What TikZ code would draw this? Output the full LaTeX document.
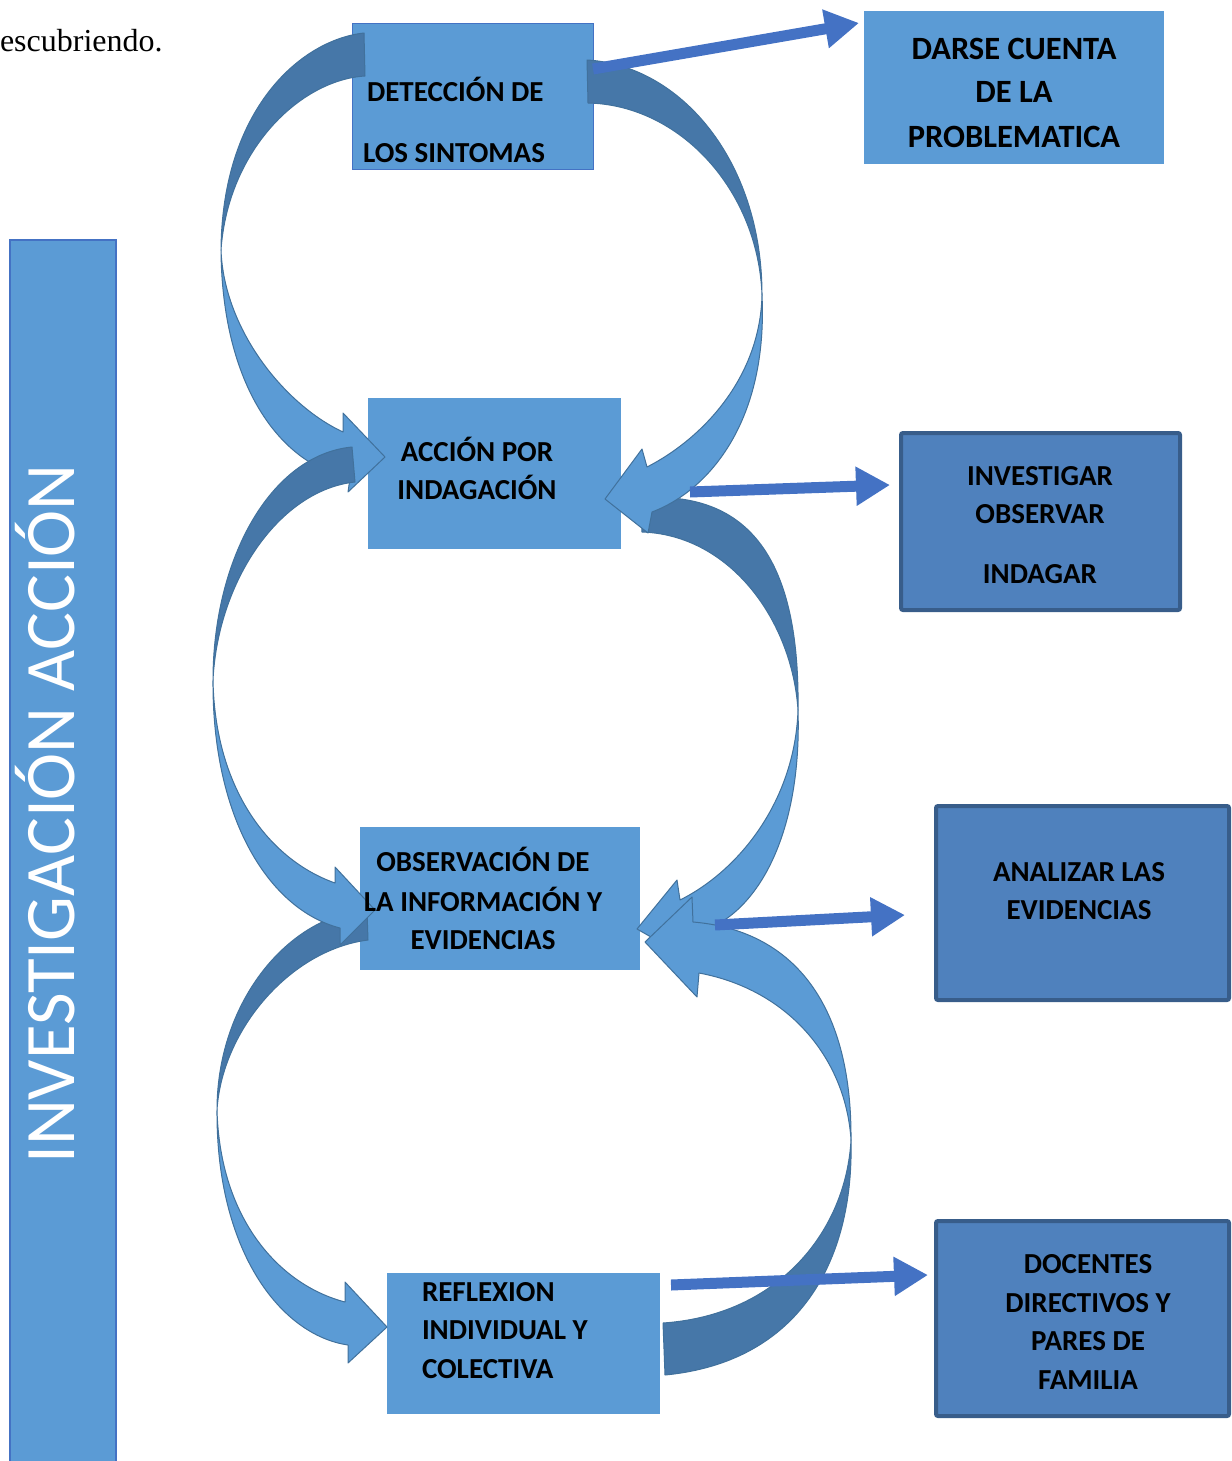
\documentclass[tikz,border=0pt]{standalone}
\usepackage{fontspec}
\setmainfont{Carlito}
\newfontfamily\serifont{Liberation Serif}
\usetikzlibrary{arrows.meta}
\definecolor{boxlight}{HTML}{5B9BD5}
\definecolor{boxdark}{HTML}{4F81BD}
\definecolor{boxdarkline}{HTML}{385D8A}
\definecolor{linecol}{HTML}{4472C4}
\definecolor{ribbondark}{HTML}{4677A8}
\definecolor{ribbonline}{HTML}{41719C}
\begin{document}
\begin{tikzpicture}[x=1pt,y=-1pt,
  every node/.style={inner sep=0pt,outer sep=0pt},
  lightbox/.style={rectangle,fill=boxlight,draw=none},
  darkbox/.style={rectangle,fill=boxdark,draw=boxdarkline,line width=4pt,rounded corners=2pt},
  ribfront/.style={fill=boxlight,draw=ribbonline,line width=1pt,line join=round},
  ribback/.style={fill=ribbondark,draw=ribbonline,line width=1pt,line join=round},
  straight/.style={draw=linecol,line width=11pt,-{Triangle[length=34pt,width=37pt]}},
  lbl/.style={anchor=base,font=\bfseries\fontsize{29}{29}\selectfont,text=black},
  lblw/.style={anchor=base west,font=\bfseries\fontsize{29}{29}\selectfont,text=black},
  lblbig/.style={anchor=base,font=\bfseries\fontsize{32.5}{32.5}\selectfont,text=black}]
\useasboundingbox (0,0) rectangle (1231,1461);

% side bar
\node[rectangle,fill=boxlight,draw=linecol,line width=2.5pt,minimum width=106pt,minimum height=1240pt] (bar) at (63,860) {};

% boxes
\node[lightbox,draw=linecol,line width=1pt,minimum width=241pt,minimum height=145pt] (det) at (472.5,96.5) {};
\node[lightbox,minimum width=300pt,minimum height=153pt] (darse) at (1014,87.5) {};
\node[lightbox,minimum width=253pt,minimum height=151pt] (accion) at (494.5,473.5) {};
\node[lightbox,minimum width=280pt,minimum height=143pt] (obs) at (500,898.5) {};
\node[lightbox,minimum width=273pt,minimum height=141pt] (refl) at (523.5,1343.5) {};
\node[darkbox,minimum width=279pt,minimum height=177pt] (inv) at (1040.5,521.5) {};
\node[darkbox,minimum width=293pt,minimum height=194pt] (anal) at (1082.5,903) {};
\node[darkbox,minimum width=293pt,minimum height=195pt] (doc) at (1082.5,1318.5) {};

% curved arrow A (left, top)
\path[ribback] (364,33) .. controls (300,40) and (222,110) .. (221,250)
   .. controls (228,150) and (300,80) .. (365,76) -- cycle;
\path[ribfront] (221,250) .. controls (222,385) and (280,465) .. (350,478)
   -- (348,492) -- (385,457) -- (343,413) -- (343,432)
   .. controls (285,405) and (224,330) .. (221,250) -- cycle;
% curved arrow E (left, bottom)
\path[ribback] (367,910) .. controls (290,915) and (217,1000) .. (217,1110)
   .. controls (222,1030) and (290,950) .. (368,940) -- cycle;
\path[ribfront] (217,1110) .. controls (216,1250) and (280,1335) .. (348,1345)
   -- (348,1363) -- (387,1327) -- (345,1282) -- (345,1302)
   .. controls (280,1285) and (220,1220) .. (217,1110) -- cycle;
% curved arrow D (left, middle)
\path[ribback] (352,447) .. controls (270,455) and (213,560) .. (213,680)
   .. controls (218,580) and (280,490) .. (355,482) -- cycle;
\path[ribfront] (213,680) .. controls (212,820) and (270,910) .. (340,928)
   -- (340,945) -- (375,910) -- (335,867) -- (335,883)
   .. controls (270,860) and (215,790) .. (213,680) -- cycle;
% curved arrow C (right, middle)
\path[ribback] (640,498) .. controls (750,490) and (800,560) .. (798,710)
   .. controls (792,620) and (730,535) .. (642,532) -- cycle;
\path[ribfront] (798,710) .. controls (802,830) and (760,910) .. (705,930)
   -- (700,965) -- (637,929) -- (677,880) -- (680,900)
   .. controls (740,870) and (795,800) .. (798,710) -- cycle;
% curved arrow B (right, top)
\path[ribback] (587,60) .. controls (680,65) and (762,160) .. (762,295)
   .. controls (758,190) and (680,105) .. (588,103) -- cycle;
\path[ribfront] (762,295) .. controls (768,420) and (710,490) .. (652,512)
   -- (648,533) -- (605,499) -- (642,449) -- (647,467)
   .. controls (700,440) and (760,380) .. (762,295) -- cycle;
% curved arrow F (right, bottom)
\path[ribback] (665,1375) .. controls (800,1362) and (854,1260) .. (851,1140)
   .. controls (846,1230) and (780,1315) .. (663,1323) -- cycle;
\path[ribfront] (851,1140) .. controls (852,1000) and (790,930) .. (693,922)
   -- (692,897) -- (645,942) -- (697,997) -- (699,973)
   .. controls (790,990) and (846,1060) .. (851,1140) -- cycle;

% straight arrows
\coordinate (s1) at (593,69);  \coordinate (e1) at (859,23);
\coordinate (s2) at (690,492); \coordinate (e2) at (890,485);
\coordinate (s3) at (715,925); \coordinate (e3) at (905,915);
\coordinate (s4) at (671,1285);\coordinate (e4) at (928,1275);
\draw[straight] (s1) -- (e1);
\draw[straight] (s2) -- (e2);
\draw[straight] (s3) -- (e3);
\draw[straight] (s4) -- (e4);

% texts
\node[anchor=base west,font=\serifont\fontsize{32}{32}\selectfont] (esc) at (0,52) {escubriendo.};
\node[anchor=base,rotate=90,text=white,font=\fontsize{71}{71}\selectfont] (vt) at (74,814) {INVESTIGACIÓN ACCIÓN};

\node[lblw] (t1a) at (367,102) {DETECCIÓN DE};
\node[lblw] (t1b) at (363,162) {LOS SINTOMAS};
\node[lblbig] (t2a) at (1014,60) {DARSE CUENTA};
\node[lblbig] (t2b) at (1014,103) {DE LA};
\node[lblbig] (t2c) at (1014,147) {PROBLEMATICA};
\node[lbl] (t3a) at (477,461) {ACCIÓN POR};
\node[lbl] (t3b) at (477,499) {INDAGACIÓN};
\node[lbl] (t4a) at (1040,485) {INVESTIGAR};
\node[lbl] (t4b) at (1040,523) {OBSERVAR};
\node[lbl] (t4c) at (1040,583) {INDAGAR};
\node[lbl] (t5a) at (483,871) {OBSERVACIÓN DE};
\node[lbl] (t5b) at (483,911) {LA INFORMACIÓN Y};
\node[lbl] (t5c) at (483,949) {EVIDENCIAS};
\node[lbl] (t6a) at (1079,881) {ANALIZAR LAS};
\node[lbl] (t6b) at (1079,919) {EVIDENCIAS};
\node[lblw] (t7a) at (422,1301) {REFLEXION};
\node[lblw] (t7b) at (422,1339) {INDIVIDUAL Y};
\node[lblw] (t7c) at (422,1378) {COLECTIVA};
\node[lbl] (t8a) at (1088,1273) {DOCENTES};
\node[lbl] (t8b) at (1088,1312) {DIRECTIVOS Y};
\node[lbl] (t8c) at (1088,1350) {PARES DE};
\node[lbl] (t8d) at (1088,1389) {FAMILIA};
\end{tikzpicture}
\end{document}
